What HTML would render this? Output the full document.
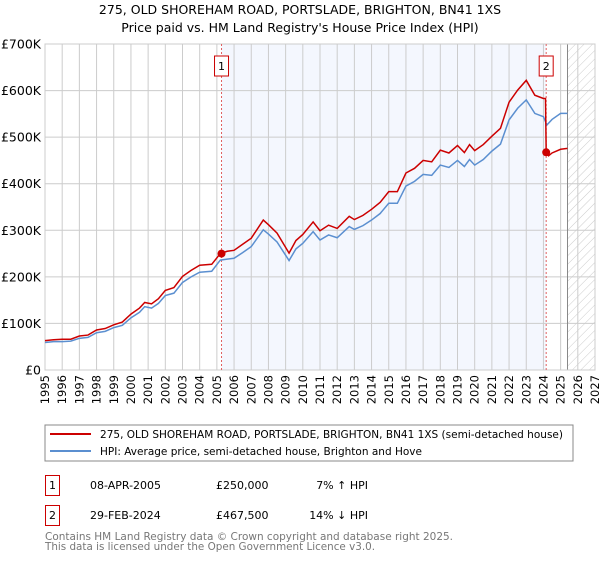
<!DOCTYPE html>
<html><head><meta charset="utf-8"><style>
body{margin:0;background:#fff;font-family:"Liberation Sans","DejaVu Sans",sans-serif;}
svg text{font-family:"DejaVu Sans","Liberation Sans",sans-serif;}
</style></head><body>
<svg id="c" width="600" height="560" viewBox="0 0 600 560" xmlns="http://www.w3.org/2000/svg">
<defs><pattern id="hatch" width="6" height="6" patternUnits="userSpaceOnUse" patternTransform="rotate(45)"><line x1="0" y1="0" x2="0" y2="6" stroke="#ccc" stroke-width="1"/></pattern></defs>
<text x="300" y="14" text-anchor="middle" font-size="12.5" fill="#000">275, OLD SHOREHAM ROAD, PORTSLADE, BRIGHTON, BN41 1XS</text>
<text x="300" y="32" text-anchor="middle" font-size="12.5" fill="#000">Price paid vs. HM Land Registry's House Price Index (HPI)</text>
<g id="plot"></g>
<rect x="45" y="425" width="528" height="36" fill="#fff" stroke="#888"/>
<line x1="50" y1="434" x2="91" y2="434" stroke="#cc0000" stroke-width="2"/>
<text x="100" y="438" font-size="11" textLength="463" lengthAdjust="spacingAndGlyphs">275, OLD SHOREHAM ROAD, PORTSLADE, BRIGHTON, BN41 1XS (semi-detached house)</text>
<line x1="50" y1="451" x2="91" y2="451" stroke="#5b8fd0" stroke-width="2"/>
<text x="100" y="455" font-size="11" textLength="322" lengthAdjust="spacingAndGlyphs">HPI: Average price, semi-detached house, Brighton and Hove</text>
<g>
<rect x="45.5" y="475.5" width="14" height="20" fill="#fff" stroke="#cc0000"/>
<text x="52.5" y="489" text-anchor="middle" font-size="11">1</text>
<text x="90" y="489" font-size="11">08-APR-2005</text>
<text x="216" y="489" font-size="11">£250,000</text>
<text x="368" y="489" font-size="11" text-anchor="end">7% ↑ HPI</text>
</g>
<g>
<rect x="45.5" y="505.5" width="14" height="20" fill="#fff" stroke="#cc0000"/>
<text x="52.5" y="519" text-anchor="middle" font-size="11">2</text>
<text x="90" y="519" font-size="11">29-FEB-2024</text>
<text x="216" y="519" font-size="11">£467,500</text>
<text x="368" y="519" font-size="11" text-anchor="end">14% ↓ HPI</text>
</g>
<text x="45" y="540" font-size="11" fill="#777" textLength="408" lengthAdjust="spacingAndGlyphs">Contains HM Land Registry data © Crown copyright and database right 2025.</text>
<text x="45" y="550" font-size="11" fill="#777" textLength="330" lengthAdjust="spacingAndGlyphs">This data is licensed under the Open Government Licence v3.0.</text>
</svg>
<script>
const hpiYears=[1995,1995.5,1996,1996.5,1997,1997.5,1998,1998.5,1999,1999.5,2000,2000.5,2000.8,2001.2,2001.6,2002,2002.5,2003,2003.5,2004,2004.7,2005.2,2005.6,2006,2006.5,2007,2007.7,2008,2008.5,2009.2,2009.6,2010,2010.6,2011,2011.5,2012,2012.7,2013,2013.5,2014,2014.5,2015,2015.5,2016,2016.5,2017,2017.5,2018,2018.5,2019,2019.4,2019.7,2020,2020.5,2021,2021.5,2022,2022.5,2023,2023.5,2024,2024.2,2024.5,2025,2025.4];
const hpiValues=[59,61,61,62,68,70,80,83,91,96,112,124,136,133,143,160,165,188,200,210,212,236,238,240,252,265,301,292,275,235,260,272,297,279,290,284,308,302,310,322,336,358,358,395,405,420,418,440,435,450,437,452,440,452,470,485,537,562,580,551,544,526,538,551,551];
const redYears=[1995,1995.5,1996,1996.5,1997,1997.5,1998,1998.5,1999,1999.5,2000,2000.5,2000.8,2001.2,2001.6,2002,2002.5,2003,2003.5,2004,2004.7,2005.2,2005.6,2006,2006.5,2007,2007.7,2008,2008.5,2009.2,2009.6,2010,2010.6,2011,2011.5,2012,2012.7,2013,2013.5,2014,2014.5,2015,2015.5,2016,2016.5,2017,2017.5,2018,2018.5,2019,2019.4,2019.7,2020,2020.5,2021,2021.5,2022,2022.5,2023,2023.5,2024,2024.12,2024.16,2024.3,2024.5,2025,2025.4];
const redValues=[63,65,66,66,73,75,86,89,97,103,120,133,145,142,153,171,177,201,214,225,227,250,255,257,270,283,322,312,294,251,278,291,318,299,311,304,330,323,332,345,360,383,383,423,433,450,447,472,466,482,467,484,471,484,502,519,575,601,622,590,583,583,467.5,460,466,474,476];
const saleYears=[2005.27,2024.16];
const saleValues=[250,467.5];
const yTicks=[0,100,200,300,400,500,600,700];
const yTickLabels=["£0","£100K","£200K","£300K","£400K","£500K","£600K","£700K"];
const xTicks=[1995,1996,1997,1998,1999,2000,2001,2002,2003,2004,2005,2006,2007,2008,2009,2010,2011,2012,2013,2014,2015,2016,2017,2018,2019,2020,2021,2022,2023,2024,2025,2026,2027];
const dataEnd=2025.4;

const X0=45,X1=595,Y0=370,Y1=44;
const xs=y=>X0+(y-1995)/(2027-1995)*(X1-X0);
const ys=v=>Y0-v/700*(Y0-Y1);
const NS="http://www.w3.org/2000/svg";
const g=document.getElementById('plot');
function mk(t,a){const e=document.createElementNS(NS,t);for(const k in a)e.setAttribute(k,a[k]);g.appendChild(e);return e;}

const shade=mk('rect',{x:xs(saleYears[0]),y:Y1,width:xs(saleYears[1])-xs(saleYears[0]),height:Y0-Y1,fill:'#f4f7fe'});


const hatch=mk('rect',{x:xs(dataEnd),y:Y1,width:X1-xs(dataEnd),height:Y0-Y1,fill:'url(#hatch)'});



xTicks.forEach(t=>{
 const l=mk('line',{x1:xs(t),x2:xs(t),y1:Y1,y2:Y0,stroke:'#ccc','stroke-width':1});
 
 
 const tx=mk('text',{x:0,y:0,'font-size':11.5,'text-anchor':'end',transform:`translate(${xs(t)+4},${Y0+5}) rotate(-90)`});
 tx.textContent=t;
 
 
});
yTicks.forEach((t,i)=>{
 const l=mk('line',{x1:X0,x2:X1,y1:ys(t),y2:ys(t),stroke:'#ccc','stroke-width':1});
 
 
 const tx=mk('text',{x:X0-4,y:ys(t)+4.5,'font-size':12.5,'text-anchor':'end'});
 tx.textContent=yTickLabels[i];
 
 
});
const endLine=mk('line',{x1:xs(dataEnd),x2:xs(dataEnd),y1:Y1,y2:Y0,stroke:'#888','stroke-width':1});


const frame=mk('rect',{x:X0,y:Y1,width:X1-X0,height:Y0-Y1,fill:'none',stroke:'#ccc'});



saleYears.forEach((s,i)=>{
 const l=mk('line',{x1:xs(s),x2:xs(s),y1:Y1,y2:Y0,stroke:'#e06060','stroke-width':1,'stroke-dasharray':'2,2'});
 
 
 const b=mk('rect',{x:xs(s)-7,y:56,width:14,height:20,fill:'#fff',stroke:'#cc0000'});
 
 
 const t=mk('text',{x:xs(s),y:70,'font-size':11,'text-anchor':'middle'});
 t.textContent=String(i+1);
 
 
});

const hp=mk('polyline',{points:hpiYears.map((y,i)=>xs(y)+','+ys(hpiValues[i])).join(' '),fill:'none',stroke:'#5b8fd0','stroke-width':1.5});


const rp=mk('polyline',{points:redYears.map((y,i)=>xs(y)+','+ys(redValues[i])).join(' '),fill:'none',stroke:'#cc0000','stroke-width':1.5});


saleYears.forEach((s,i)=>{
 const c=mk('circle',{cx:xs(s),cy:ys(saleValues[i]),r:4,fill:'#cc0000'});
 
 
});
</script>
</body></html>
